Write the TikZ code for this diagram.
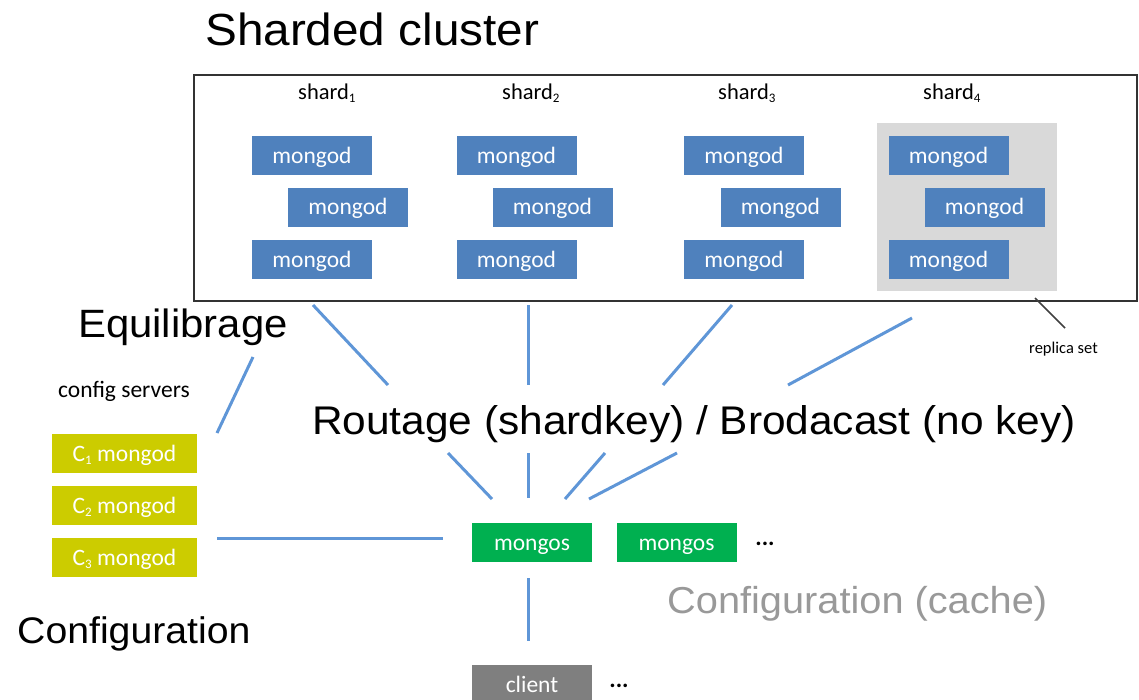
\documentclass[tikz,border=0pt]{standalone}
\usepackage{fontspec}
\setmainfont{Liberation Sans}[FakeStretch=1.06]
\newfontfamily\calfont{Carlito}
\definecolor{mgblue}{RGB}{79,129,189}
\definecolor{linkblue}{RGB}{95,150,215}
\definecolor{cfgyellow}{RGB}{204,204,0}
\definecolor{msgreen}{RGB}{0,176,80}
\definecolor{clgray}{RGB}{127,127,127}
\definecolor{rsgray}{RGB}{217,217,217}
\newcommand\shsub[1]{\raisebox{-0.35ex}{\fontsize{13}{13}\selectfont #1}}
\tikzset{
  box/.style={minimum width=120, minimum height=39, inner sep=0, text=white,
    text height=15, text depth=0,
    font=\calfont\fontsize{23.5}{23.5}\selectfont},
  mgd/.style={box, fill=mgblue},
  cfg/.style={box, fill=cfgyellow, minimum width=145},
  mgs/.style={box, fill=msgreen},
  cli/.style={box, fill=clgray},
  link/.style={draw=linkblue, line width=3},
  bigtext/.style={anchor=base west, inner sep=0, font=\fontsize{#1}{#1}\selectfont},
  small/.style={anchor=base west, inner sep=0, font=\calfont\fontsize{#1}{#1}\selectfont},
  dots/.style={inner sep=0, font=\calfont\bfseries\fontsize{24}{24}\selectfont},
}
\begin{document}
\begin{tikzpicture}[x=1pt, y=-1pt]
\useasboundingbox (0,0) rectangle (1139,699);

% title
\node[bigtext=45] (title) at (205,45) {Sharded cluster};

% cluster frame and replica set background
\draw[draw=black!80, line width=1.2] (194,75) rectangle (1137,301);
\fill[rsgray] (877,123) rectangle (1057,291);

% shard labels
\node[small=22.5] (s1) at (298,99) {shard\shsub{1}};
\node[small=22.5] (s2) at (502,99) {shard\shsub{2}};
\node[small=22.5] (s3) at (718,99) {shard\shsub{3}};
\node[small=22.5] (s4) at (923,99) {shard\shsub{4}};

% mongod replica members
\node[mgd] (a1) at (312,155.5) {mongod};
\node[mgd] (a2) at (348,207) {mongod};
\node[mgd] (a3) at (312,259.5) {mongod};
\node[mgd] (b1) at (516.5,155.5) {mongod};
\node[mgd] (b2) at (552.5,207) {mongod};
\node[mgd] (b3) at (516.5,259.5) {mongod};
\node[mgd] (c1) at (744,155.5) {mongod};
\node[mgd] (c2) at (780.5,207) {mongod};
\node[mgd] (c3) at (744,259.5) {mongod};
\node[mgd] (d1) at (948.5,155.5) {mongod};
\node[mgd] (d2) at (984.5,207) {mongod};
\node[mgd] (d3) at (948.5,259.5) {mongod};

% replica set callout
\coordinate (rsA) at (1035,298);
\coordinate (rsB) at (1065,328);
\draw[draw=black!75, line width=1.5] (rsA) -- (rsB);
\node[small=16.5] (rs) at (1029,353) {replica set};

% config servers
\node[small=23.5] (cfglabel) at (58,397) {config servers};
\node[cfg] (k1) at (124.5,453.5) {C\shsub{1} mongod};
\node[cfg] (k2) at (124.5,505.5) {C\shsub{2} mongod};
\node[cfg] (k3) at (124.5,557.5) {C\shsub{3} mongod};

% routers and client
\node[mgs] (m1) at (532,542.5) {mongos};
\node[mgs] (m2) at (676.5,542.5) {mongos};
\node[dots] (mdots) at (765,544) {...};
\node[cli] (cl) at (532,684.5) {client};
\node[dots] (cdots) at (619,686) {...};

% labels
\node[bigtext=39.5] (eq) at (78,337) {Equilibrage};
\node[bigtext=40] (route) at (312,434) {Routage (shardkey) / Brodacast (no key)};
\node[bigtext=37] (conf) at (17,643) {Configuration};
\node[bigtext=37.5, text=black!40] (cache) at (667,613) {Configuration (cache)};

% shard to router links (interrupted by the routing label)
\coordinate (p1a) at (313,305); \coordinate (p1b) at (388,385);
\coordinate (p1c) at (448,453); \coordinate (p1d) at (492,499);
\coordinate (p2a) at (528,305); \coordinate (p2b) at (528,385);
\coordinate (p2c) at (528,453); \coordinate (p2d) at (528,498);
\coordinate (p3a) at (732,305); \coordinate (p3b) at (663,385);
\coordinate (p3c) at (605,453); \coordinate (p3d) at (565,499);
\coordinate (p4a) at (912,318); \coordinate (p4b) at (788,385);
\coordinate (p4c) at (677,453); \coordinate (p4d) at (589,499);
\draw[link] (p1a) -- (p1b) (p1c) -- (p1d);
\draw[link] (p2a) -- (p2b) (p2c) -- (p2d);
\draw[link] (p3a) -- (p3b) (p3c) -- (p3d);
\draw[link] (p4a) -- (p4b) (p4c) -- (p4d);

% balancing, configuration and client links
\coordinate (eqa) at (253,357); \coordinate (eqb) at (217,433);
\draw[link] (eqa) -- (eqb);
\coordinate (cfa) at (217,538); \coordinate (cfb) at (443,538);
\draw[link] (cfa) -- (cfb);
\coordinate (cla) at (528,578); \coordinate (clb) at (528,641);
\draw[link] (cla) -- (clb);
\end{tikzpicture}
\end{document}
